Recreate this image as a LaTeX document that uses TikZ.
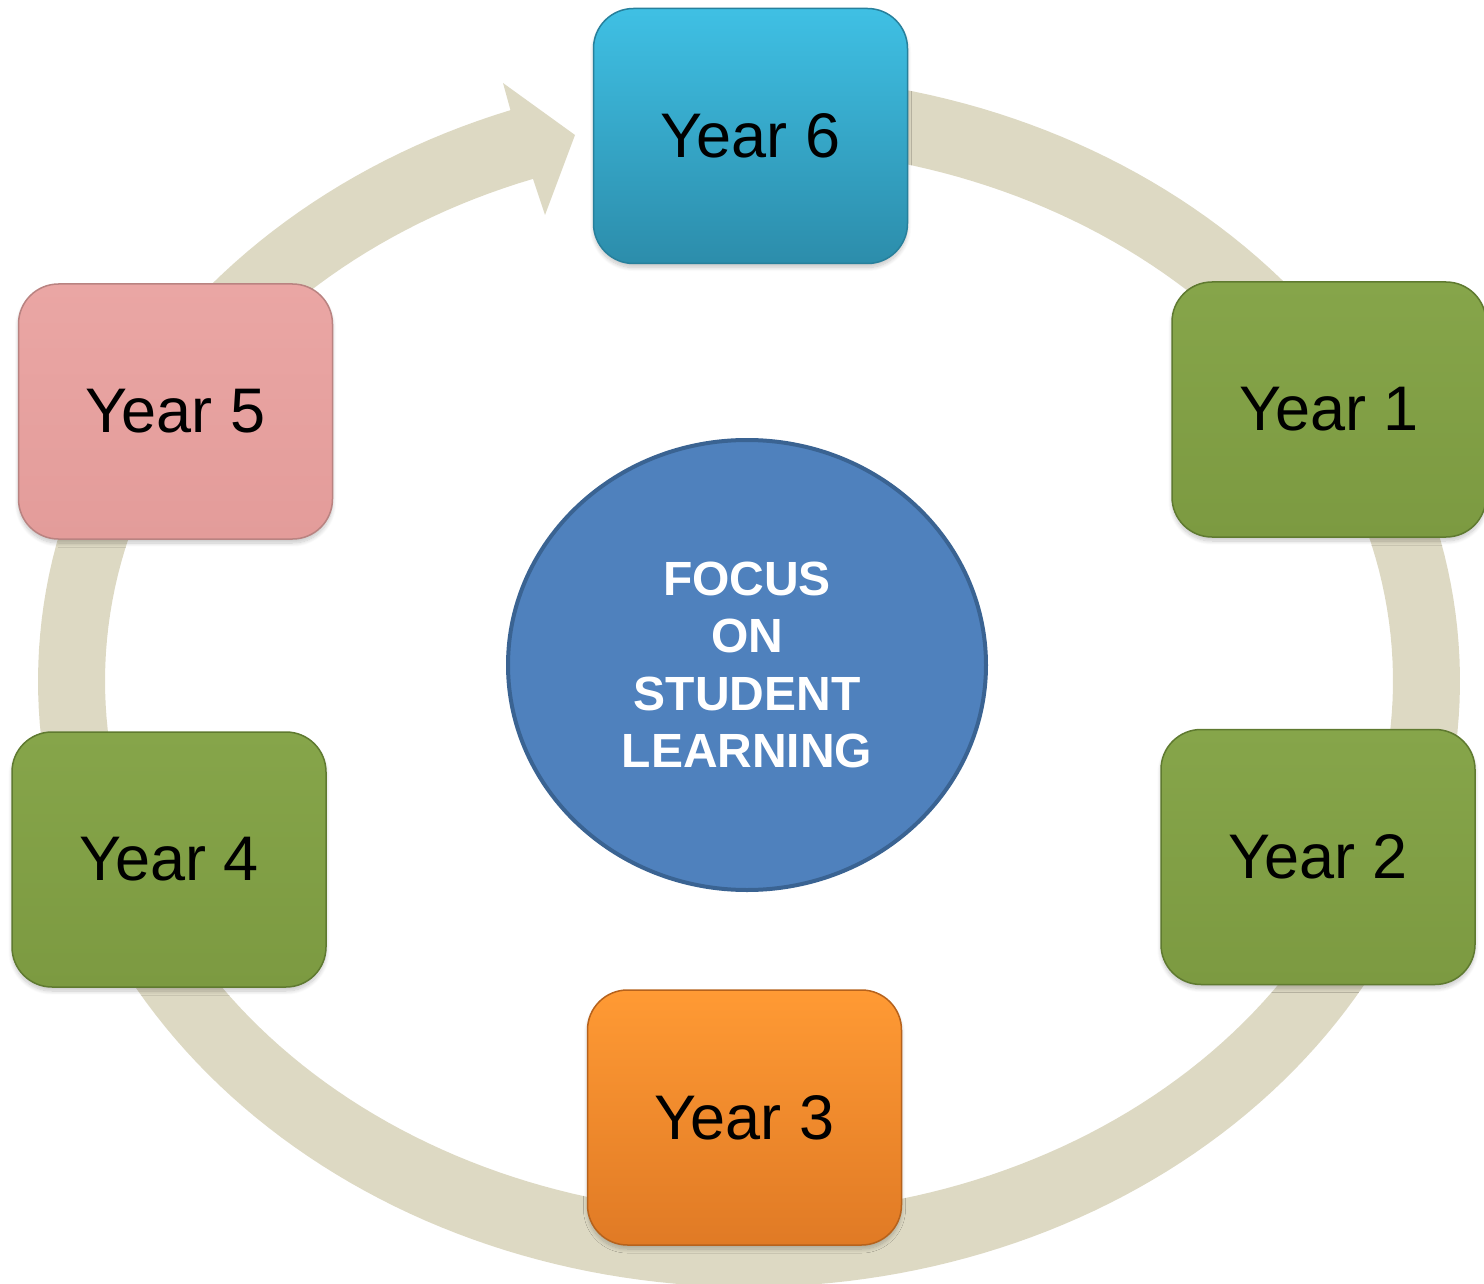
\documentclass[tikz,border=0pt]{standalone}
\usepackage{fontspec}
\setmainfont{Liberation Sans}
\usetikzlibrary{shapes.geometric,shadows.blur}
\definecolor{ringc}{HTML}{DDD9C3}
\definecolor{cyanT}{HTML}{3FC0E4}
\definecolor{cyanB}{HTML}{2C8DAB}
\definecolor{cyanD}{HTML}{27809C}
\definecolor{pinkT}{HTML}{EAA6A4}
\definecolor{pinkB}{HTML}{E39C9A}
\definecolor{pinkD}{HTML}{B98381}
\definecolor{greenT}{HTML}{86A54A}
\definecolor{greenB}{HTML}{7C9A41}
\definecolor{greenD}{HTML}{5F7A30}
\definecolor{orangeT}{HTML}{FF9A34}
\definecolor{orangeB}{HTML}{E07A25}
\definecolor{orangeD}{HTML}{B6621C}
\definecolor{focusF}{HTML}{4F81BD}
\definecolor{focusD}{HTML}{3A6392}
\tikzset{
  yearbox/.style={rectangle, rounded corners=40pt, minimum width=314pt, minimum height=255pt,
    inner sep=0pt, line width=1.5pt,
    font=\fontsize{63}{75}\selectfont, text=black,
    blur shadow={shadow xshift=0pt, shadow yshift=-4pt, shadow opacity=22,
      shadow blur radius=4pt, shadow blur steps=10}},
  cyanbox/.style={yearbox, top color=cyanT, bottom color=cyanB, draw=cyanD},
  pinkbox/.style={yearbox, top color=pinkT, bottom color=pinkB, draw=pinkD},
  greenbox/.style={yearbox, top color=greenT, bottom color=greenB, draw=greenD},
  orangebox/.style={yearbox, top color=orangeT, bottom color=orangeB, draw=orangeD},
  focus/.style={ellipse, minimum width=478pt, minimum height=450pt, inner sep=0pt,
    fill=focusF, draw=focusD, line width=4pt, text=white, align=center,
    font=\bfseries\fontsize{48}{57.5}\selectfont}
}
\begin{document}
\begin{tikzpicture}[x=1pt, y=-1pt]
\useasboundingbox (0,0) rectangle (1484,1284);
\clip (0,0) rectangle (1484,1284);
% cycle ring with arrowhead
\fill[ringc]
  plot[domain=275:610.4, samples=240] ({749+711*cos(\x)},{681+606*sin(\x)})
  -- (503,83) -- (575,135) -- (545,215)
  -- plot[domain=610.4:275, samples=240] ({749+644*cos(\x)},{681+533*sin(\x)})
  -- cycle;
% boxes
\node[cyanbox]   (y6) at (750.5,136)  {Year 6};
\node[greenbox]  (y1) at (1329,409.5) {Year 1};
\node[greenbox]  (y2) at (1318,857)   {Year 2};
\node[orangebox] (y3) at (744.5,1117.5) {Year 3};
\node[greenbox]  (y4) at (169,859.5)  {Year 4};
\node[pinkbox]   (y5) at (175.5,411.5) {Year 5};
% centre
\node[focus] (fc) at (747,665) {FOCUS\\ON\\STUDENT\\LEARNING};
\end{tikzpicture}
\end{document}
